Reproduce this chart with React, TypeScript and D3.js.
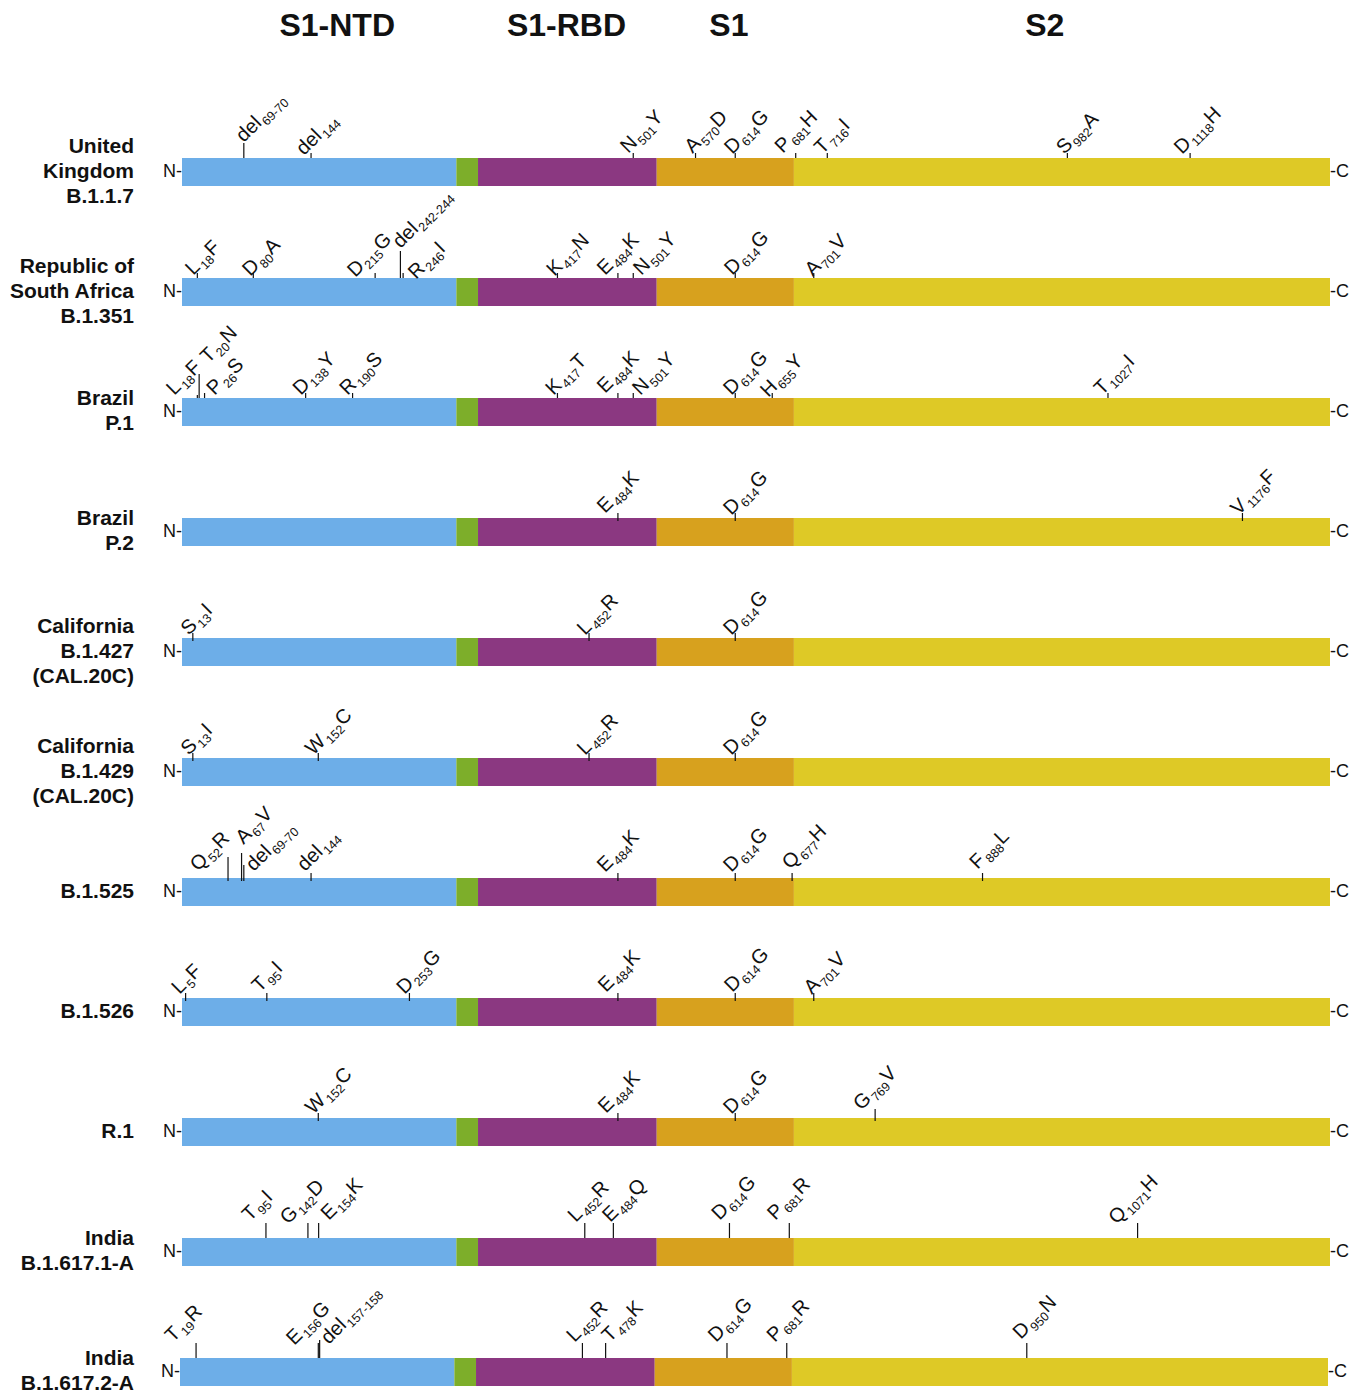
import React from 'react';
import * as d3 from 'd3';

// ---------------- DATA ----------------
const PROTEIN_START = 1;
const PROTEIN_END = 1273;

const domainNames = ['S1-NTD', 'linker', 'S1-RBD', 'S1', 'S2'];
const domainStarts = [1, 305, 329, 527, 679];
const domainEnds = [305, 329, 527, 679, 1273];

const headerLabels = ['S1-NTD', 'S1-RBD', 'S1', 'S2'];
const headerPositions = [173, 427, 607, 957];

const variantNames = [
  ['United', 'Kingdom', 'B.1.1.7'],
  ['Republic of', 'South Africa', 'B.1.351'],
  ['Brazil', 'P.1'],
  ['Brazil', 'P.2'],
  ['California', 'B.1.427', '(CAL.20C)'],
  ['California', 'B.1.429', '(CAL.20C)'],
  ['B.1.525'],
  ['B.1.526'],
  ['R.1'],
  ['India', 'B.1.617.1-A'],
  ['India', 'B.1.617.2-A'],
];

// [wild type, site label, mutant, residue position]
const ukMutations = [
  ['del', '69-70', '', 69.5], ['del', '144', '', 144], ['N', '501', 'Y', 501],
  ['A', '570', 'D', 570], ['D', '614', 'G', 614], ['P', '681', 'H', 681],
  ['T', '716', 'I', 716], ['S', '982', 'A', 982], ['D', '1118', 'H', 1118],
];
const saMutations = [
  ['L', '18', 'F', 18], ['D', '80', 'A', 80], ['D', '215', 'G', 215],
  ['del', '242-244', '', 243], ['R', '246', 'I', 246], ['K', '417', 'N', 417],
  ['E', '484', 'K', 484], ['N', '501', 'Y', 501], ['D', '614', 'G', 614],
  ['A', '701', 'V', 701],
];
const p1Mutations = [
  ['L', '18', 'F', 18], ['T', '20', 'N', 20], ['P', '26', 'S', 26],
  ['D', '138', 'Y', 138], ['R', '190', 'S', 190], ['K', '417', 'T', 417],
  ['E', '484', 'K', 484], ['N', '501', 'Y', 501], ['D', '614', 'G', 614],
  ['H', '655', 'Y', 655], ['T', '1027', 'I', 1027],
];
const p2Mutations = [
  ['E', '484', 'K', 484], ['D', '614', 'G', 614], ['V', '1176', 'F', 1176],
];
const b1427Mutations = [
  ['S', '13', 'I', 13], ['L', '452', 'R', 452], ['D', '614', 'G', 614],
];
const b1429Mutations = [
  ['S', '13', 'I', 13], ['W', '152', 'C', 152], ['L', '452', 'R', 452],
  ['D', '614', 'G', 614],
];
const b1525Mutations = [
  ['Q', '52', 'R', 52], ['A', '67', 'V', 67], ['del', '69-70', '', 69.5],
  ['del', '144', '', 144], ['E', '484', 'K', 484], ['D', '614', 'G', 614],
  ['Q', '677', 'H', 677], ['F', '888', 'L', 888],
];
const b1526Mutations = [
  ['L', '5', 'F', 5], ['T', '95', 'I', 95], ['D', '253', 'G', 253],
  ['E', '484', 'K', 484], ['D', '614', 'G', 614], ['A', '701', 'V', 701],
];
const r1Mutations = [
  ['W', '152', 'C', 152], ['E', '484', 'K', 484], ['D', '614', 'G', 614],
  ['G', '769', 'V', 769],
];
const india1Mutations = [
  ['T', '95', 'I', 95], ['G', '142', 'D', 142], ['E', '154', 'K', 154],
  ['L', '452', 'R', 452], ['E', '484', 'Q', 484], ['D', '614', 'G', 614],
  ['P', '681', 'R', 681], ['Q', '1071', 'H', 1071],
];
const india2Mutations = [
  ['T', '19', 'R', 19], ['E', '156', 'G', 156], ['del', '157-158', '', 157.5],
  ['L', '452', 'R', 452], ['T', '478', 'K', 478], ['D', '614', 'G', 614],
  ['P', '681', 'R', 681], ['D', '950', 'N', 950],
];

const variantMutations = [
  ukMutations, saMutations, p1Mutations, p2Mutations, b1427Mutations,
  b1429Mutations, b1525Mutations, b1526Mutations, r1Mutations,
  india1Mutations, india2Mutations,
];

// ---------------- LAYOUT (label placement: [dx, dy, tick length]) ----------------
const labelLayout = [
  [[0, -15, 15], [-7, -2, 5], [-5, -4, 5], [-3, -4, 5], [-3, -3, 5], [-13, -4, 5], [-5, -3, 5], [-3, -3, 5], [-8, -3, 5]],
  [[-4, -2, 5], [-3, -1, 5], [-20, 0, 5], [0, -29, 27], [13, 2, 5], [-3, -1, 5], [-13, -2, 5], [8, -2, 5], [-3, -2, 5], [-1, -1, 5]],
  [[-23, -2, 3], [9, -34, 24], [10, -2, 5], [-5, -2, 5], [-5, -2, 5], [-4, -2, 5], [-13, -4, 5], [7, -2, 5], [-4, -2, 5], [-4, 0, 5], [-6, -2, 5]],
  [[-13, -4, 5], [-4, -2, 5], [-4, -2, 5]],
  [[-4, -2, 5], [-4, -2, 5], [-4, -2, 5]],
  [[-4, -2, 5], [-5, -2, 5], [-4, -2, 5], [-4, -2, 5]],
  [[-30, -6, 21], [2, -33, 25], [10, -6, 13], [-6, -6, 5], [-13, -5, 5], [-4, -5, 5], [-2, -8, 5], [-5, -8, 5]],
  [[-6, -3, 5], [-7, -5, 5], [-5, -3, 5], [-12, -5, 5], [-3, -5, 5], [-2, -3, 5]],
  [[-5, -3, 5], [-12, -4, 5], [-4, -3, 5], [-14, -7, 9]],
  [[-16, -16, 15], [-20, -13, 15], [10, -17, 15], [-9, -15, 15], [-3, -15, 15], [-10, -17, 15], [-14, -17, 15], [-21, -13, 15]],
  [[-23, -15, 15], [-24, -12, 15], [9, -13, 18], [-8, -15, 15], [4, -15, 15], [-11, -15, 15], [-12, -15, 15], [-6, -18, 15]],
];
const tickExtend = [0, 0, 0, 3, 3, 3, 3, 3, 3, 0, 0];
const tickRanges = [
  [182, 1330], [182, 1330], [182, 1330], [182, 1330], [182, 1330], [182, 1330],
  [182, 1330], [182, 1330], [182, 1330], [182, 1318], [180, 1315],
];
const barShift = [0, 0, 0, 0, 0, 0, 0, 0, 0, 0, -2];

const domainColors = ['#6daee8', '#7dae2a', '#8b3881', '#d7a11e', '#dec926'];

const FONT = 'Liberation Sans, Arial, Helvetica, sans-serif';
const WIDTH = 1359;
const HEIGHT = 1395;
const FIRST_BAR_TOP = 158;
const ROW_STEP = 120;
const BAR_H = 28;

export default function App() {
  const x = d3.scaleLinear().domain([PROTEIN_START, PROTEIN_END]).range([182, 1330]);

  return (
    <svg
      width={WIDTH}
      height={HEIGHT}
      style={{ position: 'absolute', left: 0, top: 0, background: '#fff' }}
      fontFamily={FONT}
    >
      <rect x={0} y={0} width={WIDTH} height={HEIGHT} fill="#fff" />
      {headerLabels.map((h, i) => (
        <text key={h} x={x(headerPositions[i])} y={36} textAnchor="middle" fontSize={32} fontWeight="bold" fill="#111">
          {h}
        </text>
      ))}
      {variantNames.map((lines, r) => {
        const top = FIRST_BAR_TOP + ROW_STEP * r;
        const mid = top + BAR_H / 2;
        const shift = barShift[r];
        const tx = d3.scaleLinear().domain([PROTEIN_START, PROTEIN_END]).range(tickRanges[r]);
        const muts = variantMutations[r];
        return (
          <g key={r}>
            {lines.map((ln, j) => (
              <text
                key={j}
                x={134}
                y={mid + (j - (lines.length - 1) / 2) * 25 + 5.5}
                textAnchor="end"
                fontSize={21}
                fontWeight="bold"
                fill="#111"
              >
                {ln}
              </text>
            ))}
            <text x={182 + shift} y={mid + 5} textAnchor="end" fontSize={18} fill="#111">N-</text>
            <text x={1330 + shift} y={mid + 5} textAnchor="start" fontSize={18} fill="#111">-C</text>
            {domainNames.map((d, k) => (
              <rect
                key={d}
                x={x(domainStarts[k]) + shift}
                y={top}
                width={x(domainEnds[k]) - x(domainStarts[k])}
                height={BAR_H}
                fill={domainColors[k]}
              />
            ))}
            {muts.map((m, k) => {
              const [wt, site, mt, pos] = m as [string, string, string, number];
              const [dx, dy, len] = labelLayout[r][k];
              const px = tx(pos);
              const sx = px + dx;
              const sy = top + dy;
              return (
                <g key={k}>
                  <line
                    x1={px}
                    x2={px}
                    y1={top - len}
                    y2={top + tickExtend[r]}
                    stroke="#111"
                    strokeWidth={1.2}
                  />
                  <text transform={`translate(${sx},${sy}) rotate(-45)`} fontSize={20} fill="#111">
                    <tspan>{wt}</tspan>
                    <tspan fontSize={12.5} dx={1.5} dy={4.5}>{site}</tspan>
                    {mt ? <tspan dx={0.5} dy={-4.5}>{mt}</tspan> : null}
                  </text>
                </g>
              );
            })}
          </g>
        );
      })}
    </svg>
  );
}
